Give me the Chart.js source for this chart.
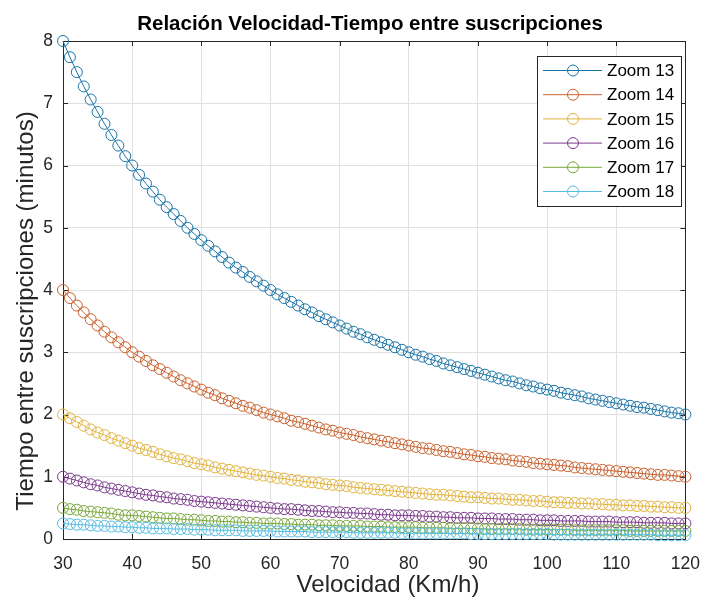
<!DOCTYPE html>
<html>
<head>
<meta charset="utf-8">
<script src="https://cdn.jsdelivr.net/npm/chart.js@4"></script>
<style>
  html, body { margin: 0; padding: 0; background: #ffffff; }
  #wrap { width: 715px; height: 599px; }
</style>
</head>
<body>
<div id="wrap"><canvas id="speedChart" width="715" height="599"></canvas></div>
<script>
// Velocidad (Km/h)
const velocity = [
  30, 31, 32, 33, 34, 35, 36, 37, 38, 39,
  40, 41, 42, 43, 44, 45, 46, 47, 48, 49,
  50, 51, 52, 53, 54, 55, 56, 57, 58, 59,
  60, 61, 62, 63, 64, 65, 66, 67, 68, 69,
  70, 71, 72, 73, 74, 75, 76, 77, 78, 79,
  80, 81, 82, 83, 84, 85, 86, 87, 88, 89,
  90, 91, 92, 93, 94, 95, 96, 97, 98, 99,
  100, 101, 102, 103, 104, 105, 106, 107, 108, 109,
  110, 111, 112, 113, 114, 115, 116, 117, 118, 119,
  120
];

// Tiempo entre suscripciones (minutos), one array per zoom level
const zoom13 = [
  8.00, 7.74, 7.50, 7.27, 7.06, 6.86, 6.67, 6.49, 6.32, 6.15,
  6.00, 5.85, 5.71, 5.58, 5.45, 5.33, 5.22, 5.11, 5.00, 4.90,
  4.80, 4.71, 4.62, 4.53, 4.44, 4.36, 4.29, 4.21, 4.14, 4.07,
  4.00, 3.93, 3.87, 3.81, 3.75, 3.69, 3.64, 3.58, 3.53, 3.48,
  3.43, 3.38, 3.33, 3.29, 3.24, 3.20, 3.16, 3.12, 3.08, 3.04,
  3.00, 2.96, 2.93, 2.89, 2.86, 2.82, 2.79, 2.76, 2.73, 2.70,
  2.67, 2.64, 2.61, 2.58, 2.55, 2.53, 2.50, 2.47, 2.45, 2.42,
  2.40, 2.38, 2.35, 2.33, 2.31, 2.29, 2.26, 2.24, 2.22, 2.20,
  2.18, 2.16, 2.14, 2.12, 2.11, 2.09, 2.07, 2.05, 2.03, 2.02,
  2.00
];
const zoom14 = [
  4.00, 3.87, 3.75, 3.64, 3.53, 3.43, 3.33, 3.24, 3.16, 3.08,
  3.00, 2.93, 2.86, 2.79, 2.73, 2.67, 2.61, 2.55, 2.50, 2.45,
  2.40, 2.35, 2.31, 2.26, 2.22, 2.18, 2.14, 2.11, 2.07, 2.03,
  2.00, 1.97, 1.94, 1.90, 1.88, 1.85, 1.82, 1.79, 1.76, 1.74,
  1.71, 1.69, 1.67, 1.64, 1.62, 1.60, 1.58, 1.56, 1.54, 1.52,
  1.50, 1.48, 1.46, 1.45, 1.43, 1.41, 1.40, 1.38, 1.36, 1.35,
  1.33, 1.32, 1.30, 1.29, 1.28, 1.26, 1.25, 1.24, 1.22, 1.21,
  1.20, 1.19, 1.18, 1.17, 1.15, 1.14, 1.13, 1.12, 1.11, 1.10,
  1.09, 1.08, 1.07, 1.06, 1.05, 1.04, 1.03, 1.03, 1.02, 1.01,
  1.00
];
const zoom15 = [
  2.00, 1.94, 1.88, 1.82, 1.76, 1.71, 1.67, 1.62, 1.58, 1.54,
  1.50, 1.46, 1.43, 1.40, 1.36, 1.33, 1.30, 1.28, 1.25, 1.22,
  1.20, 1.18, 1.15, 1.13, 1.11, 1.09, 1.07, 1.05, 1.03, 1.02,
  1.00, 0.98, 0.97, 0.95, 0.94, 0.92, 0.91, 0.90, 0.88, 0.87,
  0.86, 0.85, 0.83, 0.82, 0.81, 0.80, 0.79, 0.78, 0.77, 0.76,
  0.75, 0.74, 0.73, 0.72, 0.71, 0.71, 0.70, 0.69, 0.68, 0.67,
  0.67, 0.66, 0.65, 0.65, 0.64, 0.63, 0.63, 0.62, 0.61, 0.61,
  0.60, 0.59, 0.59, 0.58, 0.58, 0.57, 0.57, 0.56, 0.56, 0.55,
  0.55, 0.54, 0.54, 0.53, 0.53, 0.52, 0.52, 0.51, 0.51, 0.50,
  0.50
];
const zoom16 = [
  1.00, 0.97, 0.94, 0.91, 0.88, 0.86, 0.83, 0.81, 0.79, 0.77,
  0.75, 0.73, 0.71, 0.70, 0.68, 0.67, 0.65, 0.64, 0.63, 0.61,
  0.60, 0.59, 0.58, 0.57, 0.56, 0.55, 0.54, 0.53, 0.52, 0.51,
  0.50, 0.49, 0.48, 0.48, 0.47, 0.46, 0.45, 0.45, 0.44, 0.43,
  0.43, 0.42, 0.42, 0.41, 0.41, 0.40, 0.39, 0.39, 0.38, 0.38,
  0.38, 0.37, 0.37, 0.36, 0.36, 0.35, 0.35, 0.34, 0.34, 0.34,
  0.33, 0.33, 0.33, 0.32, 0.32, 0.32, 0.31, 0.31, 0.31, 0.30,
  0.30, 0.30, 0.29, 0.29, 0.29, 0.29, 0.28, 0.28, 0.28, 0.28,
  0.27, 0.27, 0.27, 0.27, 0.26, 0.26, 0.26, 0.26, 0.25, 0.25,
  0.25
];
const zoom17 = [
  0.50, 0.48, 0.47, 0.45, 0.44, 0.43, 0.42, 0.41, 0.39, 0.38,
  0.38, 0.37, 0.36, 0.35, 0.34, 0.33, 0.33, 0.32, 0.31, 0.31,
  0.30, 0.29, 0.29, 0.28, 0.28, 0.27, 0.27, 0.26, 0.26, 0.25,
  0.25, 0.25, 0.24, 0.24, 0.23, 0.23, 0.23, 0.22, 0.22, 0.22,
  0.21, 0.21, 0.21, 0.21, 0.20, 0.20, 0.20, 0.19, 0.19, 0.19,
  0.19, 0.19, 0.18, 0.18, 0.18, 0.18, 0.17, 0.17, 0.17, 0.17,
  0.17, 0.16, 0.16, 0.16, 0.16, 0.16, 0.16, 0.15, 0.15, 0.15,
  0.15, 0.15, 0.15, 0.15, 0.14, 0.14, 0.14, 0.14, 0.14, 0.14,
  0.14, 0.14, 0.13, 0.13, 0.13, 0.13, 0.13, 0.13, 0.13, 0.13,
  0.13
];
const zoom18 = [
  0.25, 0.24, 0.23, 0.23, 0.22, 0.21, 0.21, 0.20, 0.20, 0.19,
  0.19, 0.18, 0.18, 0.17, 0.17, 0.17, 0.16, 0.16, 0.16, 0.15,
  0.15, 0.15, 0.14, 0.14, 0.14, 0.14, 0.13, 0.13, 0.13, 0.13,
  0.13, 0.12, 0.12, 0.12, 0.12, 0.12, 0.11, 0.11, 0.11, 0.11,
  0.11, 0.11, 0.10, 0.10, 0.10, 0.10, 0.10, 0.10, 0.10, 0.09,
  0.09, 0.09, 0.09, 0.09, 0.09, 0.09, 0.09, 0.09, 0.09, 0.08,
  0.08, 0.08, 0.08, 0.08, 0.08, 0.08, 0.08, 0.08, 0.08, 0.08,
  0.08, 0.07, 0.07, 0.07, 0.07, 0.07, 0.07, 0.07, 0.07, 0.07,
  0.07, 0.07, 0.07, 0.07, 0.07, 0.07, 0.06, 0.06, 0.06, 0.06,
  0.06
];

const seriesNames = ['Zoom 13', 'Zoom 14', 'Zoom 15', 'Zoom 16', 'Zoom 17', 'Zoom 18'];
const seriesValues = [zoom13, zoom14, zoom15, zoom16, zoom17, zoom18];
const seriesColors = ['#1a74a6', '#c9602c', '#e2b33c', '#7b3a8c', '#78a83a', '#55bde2'];

const chartTitle = 'Relación Velocidad-Tiempo entre suscripciones';
const xTitle = 'Velocidad (Km/h)';
const yTitle = 'Tiempo entre suscripciones (minutos)';

const FONT = "'Liberation Sans', Arial, Helvetica, sans-serif";
const AXIS_COLOR = '#262626';

// MATLAB-like frame: white background, box, inward ticks, titles, legend
const matlabFrame = {
    id: 'matlabFrame',
    beforeDraw(chart) {
        const ctx = chart.ctx;
        ctx.save();
        ctx.fillStyle = '#ffffff';
        ctx.fillRect(0, 0, chart.width, chart.height);
        ctx.restore();
    },
    beforeDatasetsDraw(chart) {
        const { ctx, chartArea: a, scales } = chart;
        ctx.save();
        ctx.strokeStyle = AXIS_COLOR;
        ctx.lineWidth = 1;
        const tickLen = 5;
        ctx.beginPath();
        scales.x.ticks.forEach(t => {
            const px = Math.round(scales.x.getPixelForValue(t.value)) + 0.5;
            ctx.moveTo(px, a.bottom); ctx.lineTo(px, a.bottom - tickLen);
            ctx.moveTo(px, a.top); ctx.lineTo(px, a.top + tickLen);
        });
        scales.y.ticks.forEach(t => {
            const py = Math.round(scales.y.getPixelForValue(t.value)) + 0.5;
            ctx.moveTo(a.left, py); ctx.lineTo(a.left + tickLen, py);
            ctx.moveTo(a.right, py); ctx.lineTo(a.right - tickLen, py);
        });
        ctx.stroke();
        ctx.strokeRect(Math.round(a.left) + 0.5, Math.round(a.top) + 0.5,
            Math.round(a.right - a.left), Math.round(a.bottom - a.top));
        ctx.restore();
    },
    afterDraw(chart) {
        const { ctx, chartArea: a } = chart;
        ctx.save();

        // title
        ctx.fillStyle = '#000000';
        ctx.font = 'bold 20.5px ' + FONT;
        ctx.textAlign = 'center';
        ctx.textBaseline = 'middle';
        ctx.fillText(chartTitle, 370, 24);

        // axis titles
        ctx.fillStyle = AXIS_COLOR;
        ctx.font = '24px ' + FONT;
        ctx.fillText(xTitle, 388, 585);
        ctx.save();
        ctx.translate(26, 311);
        ctx.rotate(-Math.PI / 2);
        ctx.fillText(yTitle, 0, 0);
        ctx.restore();

        // legend
        const box = { x: 537.5, y: 56.5, w: 144, h: 150 };
        ctx.fillStyle = '#ffffff';
        ctx.fillRect(box.x, box.y, box.w, box.h);
        ctx.strokeStyle = AXIS_COLOR;
        ctx.lineWidth = 1;
        ctx.strokeRect(box.x, box.y, box.w, box.h);

        ctx.font = '17px ' + FONT;
        ctx.textAlign = 'left';
        seriesNames.forEach((name, i) => {
            const cy = 70.5 + i * 24.2;
            ctx.strokeStyle = seriesColors[i];
            ctx.beginPath();
            ctx.moveTo(543, cy); ctx.lineTo(602, cy);
            ctx.stroke();
            ctx.beginPath();
            ctx.arc(573, cy, 5.5, 0, Math.PI * 2);
            ctx.stroke();
            ctx.fillStyle = '#000000';
            ctx.fillText(name, 607, cy + 1);
        });
        ctx.restore();
    }
};

function buildDatasets() {
    return seriesNames.map((name, i) => ({
        label: name,
        data: velocity.map((v, k) => ({ x: v, y: seriesValues[i][k] })),
        borderColor: seriesColors[i],
        borderWidth: 1,
        pointStyle: 'circle',
        pointRadius: 5.5,
        pointBorderWidth: 1,
        pointBorderColor: seriesColors[i],
        pointBackgroundColor: 'rgba(0,0,0,0)',
        tension: 0,
        fill: false,
        clip: false,
        // later series are drawn on top, as in MATLAB
        order: seriesNames.length - i
    }));
}

function renderChart() {
    const ctx = document.getElementById('speedChart').getContext('2d');

    new Chart(ctx, {
        type: 'line',
        data: { datasets: buildDatasets() },
        plugins: [matlabFrame],
        options: {
            responsive: false,
            animation: false,
            devicePixelRatio: 1,
            layout: {
                padding: { left: 0, top: 41, right: 19, bottom: 0 }
            },
            scales: {
                x: {
                    type: 'linear',
                    min: 30,
                    max: 120,
                    afterFit: scale => { scale.height = 60; },
                    border: { display: false },
                    grid: { color: '#e0e0e0', drawTicks: false },
                    ticks: {
                        stepSize: 10,
                        padding: 15,
                        color: AXIS_COLOR,
                        font: { family: FONT, size: 17.5 }
                    }
                },
                y: {
                    min: 0,
                    max: 8,
                    afterFit: scale => { scale.width = 63; },
                    border: { display: false },
                    grid: { color: '#e0e0e0', drawTicks: false },
                    ticks: {
                        stepSize: 1,
                        padding: 10,
                        color: AXIS_COLOR,
                        font: { family: FONT, size: 17.5 }
                    }
                }
            },
            plugins: {
                legend: { display: false },
                title: { display: false },
                tooltip: { enabled: false }
            }
        }
    });
}

document.addEventListener('DOMContentLoaded', renderChart);
</script>
</body>
</html>
